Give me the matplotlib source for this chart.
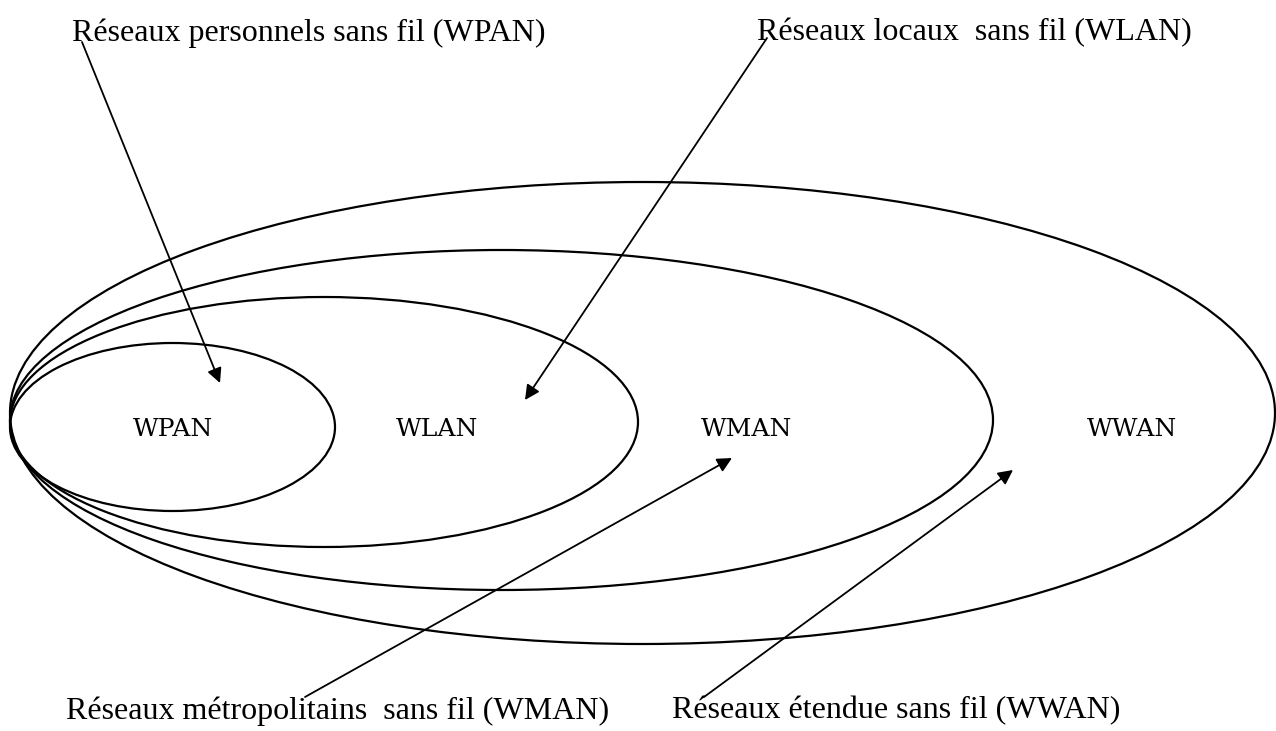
import matplotlib.pyplot as plt
from matplotlib.patches import Ellipse

# Network types, smallest to largest
networks = ['WPAN', 'WLAN', 'WMAN', 'WWAN']
descriptions = ['Réseaux personnels sans fil (WPAN)',
                'Réseaux locaux  sans fil (WLAN)',
                'Réseaux métropolitains  sans fil (WMAN)',
                'Réseaux étendue sans fil (WWAN)']

# Layout (pixel coordinates, y going down)
left_x = 10
right_x = [335, 638, 993, 1275]
center_y = [427, 422, 420, 413]
heights = [168, 250, 340, 462]
label_x = [173, 437, 747, 1132]
text_pos = [(72, 33), (757, 33), (66, 711), (672, 711)]
arrow_start = [(82, 42), (767, 38), (305, 697), (704, 697)]
arrow_end = [(220, 383), (525, 400), (732, 458), (1013, 470)]

fig = plt.figure(figsize=(12.76, 7.31), dpi=100)
ax = fig.add_axes([0, 0, 1, 1])
ax.set_xlim(0, 1276)
ax.set_ylim(731, 0)
ax.axis('off')

for rx, cy, h in zip(right_x, center_y, heights):
    w = rx - left_x
    ax.add_patch(Ellipse((left_x + w / 2, cy), w, h,
                         fill=False, edgecolor='black', linewidth=1.6))

for name, x in zip(networks, label_x):
    ax.text(x, 429, name, ha='center', va='center',
            fontsize=18, family='DejaVu Serif')

for desc, (x, y) in zip(descriptions, text_pos):
    ax.text(x, y, desc, ha='left', va='center',
            fontsize=23, family='Liberation Serif')

for (x0, y0), (x1, y1) in zip(arrow_start, arrow_end):
    ax.annotate('', xy=(x1, y1), xytext=(x0, y0),
                arrowprops=dict(arrowstyle='-|>', color='black', lw=1.3,
                                mutation_scale=22, shrinkA=0, shrinkB=0))

fig.savefig('out.png', dpi=100)
